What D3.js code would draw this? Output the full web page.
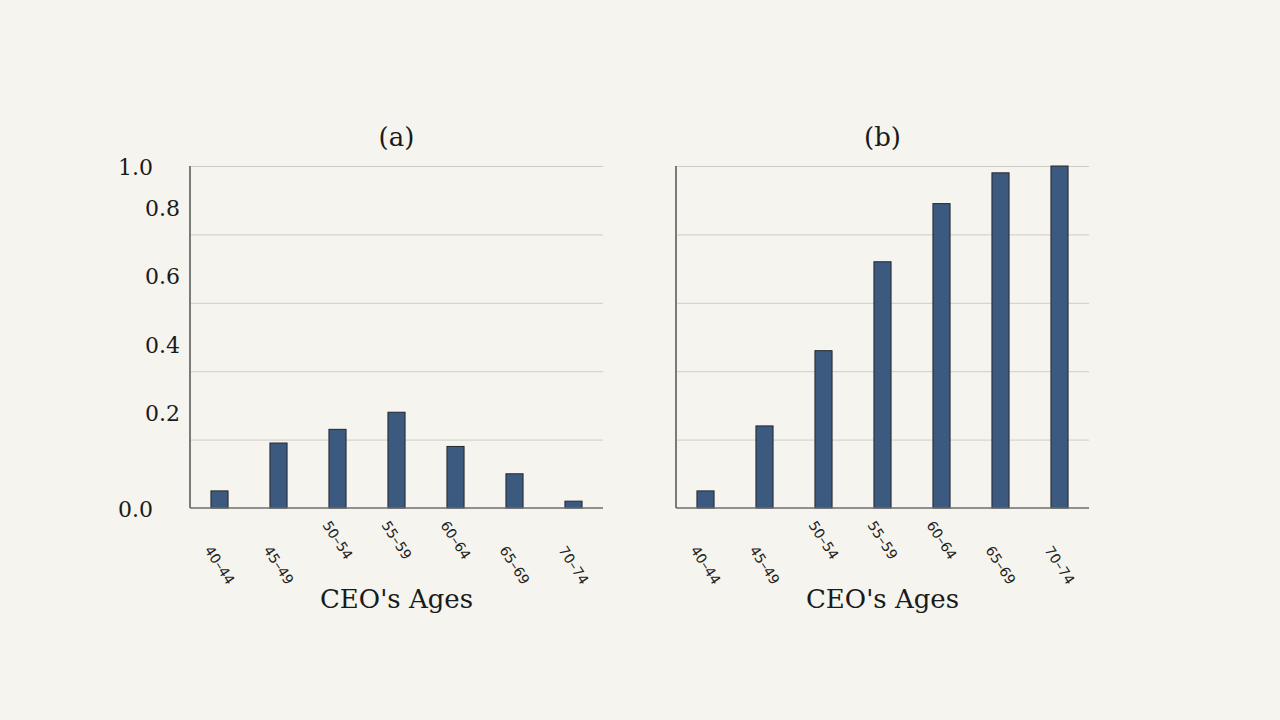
<!DOCTYPE html>
<html>
<head>
<meta charset="utf-8">
<script src="https://cdn.jsdelivr.net/npm/d3@7"></script>
<style>
  html, body { margin: 0; padding: 0; background: #f5f4ee; }
  svg { display: block; }
</style>
</head>
<body>
<svg id="chart" width="1280" height="720"></svg>
<script>
// ---- data ----
const categories = ["40\u201344", "45\u201349", "50\u201354", "55\u201359", "60\u201364", "65\u201369", "70\u201374"];
const valuesA = [0.05, 0.19, 0.23, 0.28, 0.18, 0.10, 0.02];
const valuesB = [0.05, 0.24, 0.46, 0.72, 0.89, 0.98, 1.00];
const yTickValues = [0.0, 0.2, 0.4, 0.6, 0.8, 1.0];
const yTickLabels = ["0.0", "0.2", "0.4", "0.6", "0.8", "1.0"];
const panelTitles = ["(a)", "(b)"];
const xAxisTitle = "CEO's Ages";

(function () {
  // ---- layout ----
  const svg = d3.select("#chart");
  const plotTop = 166, plotBottom = 508;
  const panels = [
    { x0: 190, x1: 603, values: valuesA, title: panelTitles[0], yLabels: true },
    { x0: 676, x1: 1089, values: valuesB, title: panelTitles[1], yLabels: false }
  ];
  const y = d3.scaleLinear().domain([0, 1]).range([plotBottom, plotTop]);
  const serif = "'DejaVu Serif', serif";
  const sans = "'DejaVu Sans', sans-serif";
  const raisedLabels = new Set([2, 3, 4]);

  panels.forEach(p => {
    const g = svg.append("g");
    const x = d3.scaleBand().domain(categories).range([p.x0, p.x1]).padding(0);
    const bw = x.bandwidth() * 0.29;

    // gridlines
    g.selectAll("line.grid").data(yTickValues.filter(v => v > 0)).enter()
      .append("line")
      .attr("x1", p.x0).attr("x2", p.x1)
      .attr("y1", d => y(d) + 0.5).attr("y2", d => y(d) + 0.5)
      .attr("stroke", "#cfcdc6").attr("stroke-width", 1);

    // bars
    g.selectAll("rect.bar").data(p.values).enter()
      .append("rect")
      .attr("x", (d, i) => x(categories[i]) + x.bandwidth() / 2 - bw / 2)
      .attr("y", d => y(d))
      .attr("width", bw)
      .attr("height", d => y(0) - y(d))
      .attr("fill", "#3c5a80")
      .attr("stroke", "#23272e")
      .attr("stroke-width", 1);

    // axis lines
    g.append("line").attr("x1", p.x0).attr("x2", p.x0)
      .attr("y1", plotTop).attr("y2", plotBottom)
      .attr("stroke", "#7a7a78").attr("stroke-width", 2);
    g.append("line").attr("x1", p.x0).attr("x2", p.x1)
      .attr("y1", plotBottom).attr("y2", plotBottom)
      .attr("stroke", "#6e6e6c").attr("stroke-width", 1.5);

    // title
    g.append("text").attr("x", (p.x0 + p.x1) / 2).attr("y", 146)
      .attr("text-anchor", "middle").attr("font-family", serif)
      .attr("font-size", 26).attr("fill", "#1a1a1a").text(p.title);

    // x title
    g.append("text").attr("x", (p.x0 + p.x1) / 2).attr("y", 608)
      .attr("text-anchor", "middle").attr("font-family", serif)
      .attr("font-size", 26).attr("fill", "#1a1a1a").text(xAxisTitle);

    // x tick labels
    g.selectAll("text.xl").data(categories).enter()
      .append("text")
      .attr("font-family", sans).attr("font-size", 14).attr("fill", "#222")
      .attr("transform", (d, i) => {
        const cx = x(d) + x.bandwidth() / 2 - 15.5;
        const cy = plotBottom + (raisedLabels.has(i) ? 17 : 42);
        return `translate(${cx},${cy}) rotate(57)`;
      })
      .text(d => d);

    // y tick labels
    if (p.yLabels) {
      g.selectAll("text.yl").data(yTickValues).enter()
        .append("text")
        .attr("font-family", serif).attr("font-size", 22).attr("fill", "#1a1a1a")
        .attr("text-anchor", "end")
        .attr("dominant-baseline", "central")
        .attr("x", d => (d === 0 || d === 1) ? 153 : 180)
        .attr("y", d => (d === 0 || d === 1) ? y(d) + 1 : y(d) - 26)
        .text((d, i) => yTickLabels[i]);
    }
  });
})();
</script>
</body>
</html>
